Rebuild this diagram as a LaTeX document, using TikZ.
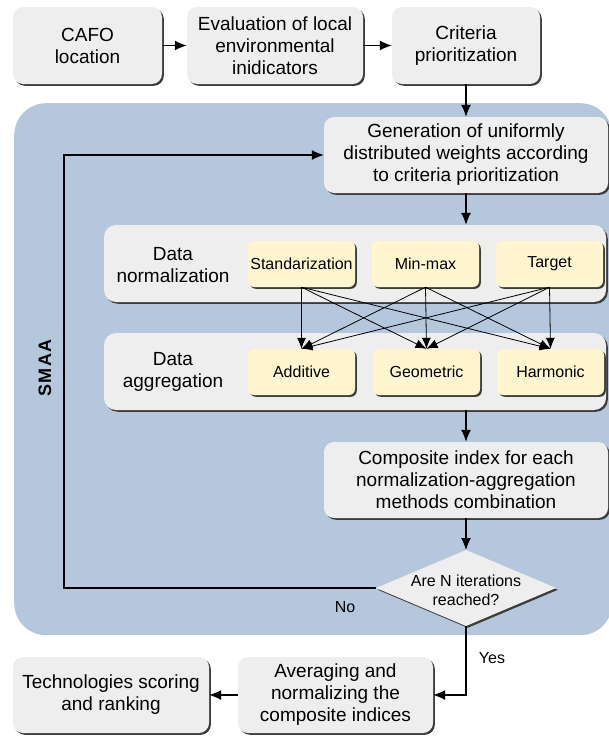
\documentclass[tikz,border=0pt]{standalone}
\usepackage{fontspec}
\setmainfont{Liberation Sans}
\usetikzlibrary{arrows.meta,shadows}
\definecolor{panelblue}{HTML}{B4C7DC}
\definecolor{boxgray}{HTML}{EEEEEE}
\definecolor{boxyellow}{HTML}{FFF5CE}
\definecolor{shadowgray}{HTML}{3C3C3C}
\begin{document}
\begin{tikzpicture}[x=1pt,y=1pt,
  shd/.style={drop shadow={shadow xshift=1.8pt,shadow yshift=-1.8pt,fill=shadowgray,opacity=1}},
  gbox/.style={shd,fill=boxgray,rounded corners=10pt,align=center,inner sep=0pt,font=\fontsize{19}{22}\selectfont},
  ybox/.style={shd,fill=boxyellow,rounded corners=6pt,align=center,inner sep=0pt,minimum width=107pt,minimum height=46pt,font=\fontsize{16}{19}\selectfont},
  panelbox/.style={shd,fill=boxgray,rounded corners=12pt,inner sep=0pt,minimum width=502pt,minimum height=77pt},
  lbl/.style={align=center,inner sep=0pt,font=\fontsize{19}{22}\selectfont},
  conn/.style={line width=1.2pt,-{Latex[length=12pt,width=10pt]}},
  crossarrow/.style={line width=0.8pt,-{Latex[length=11pt,width=9pt]}},
]
\useasboundingbox (0,0) rectangle (609,-736);
% SMAA panel
\node[fill=panelblue,rounded corners=32pt,minimum width=598pt,minimum height=532pt,anchor=north west,inner sep=0pt] (smaa) at (14,-103) {};
\node[rotate=90,font=\bfseries\fontsize{18}{20}\selectfont] (smaalbl) at (45,-368) {S\kern1.5pt M\kern1.5pt A\kern1.5pt A};

% top row
\node[gbox,minimum width=149pt,minimum height=77pt] (cafo) at (87.5,-45.5) {CAFO\\location};
\node[gbox,minimum width=176pt,minimum height=77pt] (eval) at (275,-45.5) {Evaluation of local\\environmental\\inidicators};
\node[gbox,minimum width=148pt,minimum height=77pt] (crit) at (466,-45.5) {Criteria\\prioritization};

% generation
\node[gbox,minimum width=284pt,minimum height=76pt] (gen) at (466,-155) {Generation of uniformly\\distributed weights according\\to criteria prioritization};

% normalization panel
\node[panelbox] (normp) at (355,-263.5) {};
\node[lbl] (normlbl) at (173,-265) {Data\\normalization};
\node[ybox] (std) at (301.5,-264) {Standarization};
\node[ybox] (mm) at (425.5,-264) {Min-max};
\node[ybox] (tgt) at (549.5,-264) {Target};

% aggregation panel
\node[panelbox] (aggp) at (355,-371.5) {};
\node[lbl] (agglbl) at (173,-372) {Data\\aggregation};
\node[ybox] (add) at (301.5,-372) {Additive};
\node[ybox] (geo) at (426.5,-372) {Geometric};
\node[ybox] (har) at (550.5,-372) {Harmonic};

% composite
\node[gbox,minimum width=284pt,minimum height=76pt] (comp) at (466,-480) {Composite index for each\\normalization-aggregation\\methods combination};

% diamond
\coordinate (diaT) at (466,-550);
\coordinate (diaB) at (466,-626);
\coordinate (diaL) at (376,-588);
\coordinate (diaR) at (556,-588);
\fill[boxgray,shd] (diaT) -- (diaR) -- (diaB) -- (diaL) -- cycle;
\node[align=center,inner sep=0pt,font=\fontsize{16}{19}\selectfont] (dia) at (466,-590) {Are N iterations\\reached?};

% bottom row
\node[gbox,minimum width=195pt,minimum height=76pt] (avg) at (335.5,-695) {Averaging and\\normalizing the\\composite indices};
\node[gbox,minimum width=196pt,minimum height=76pt] (tech) at (111,-695) {Technologies scoring\\and ranking};

% labels
\node[inner sep=0pt,font=\fontsize{16}{19}\selectfont] (nolbl) at (345,-607) {No};
\node[inner sep=0pt,font=\fontsize{16}{19}\selectfont] (yeslbl) at (492,-658) {Yes};

% connectors
\draw[conn] (cafo.east) -- (eval.west);
\draw[conn] (eval.east) -- (crit.west);
\draw[conn] (crit.south) -- (gen.north);
\draw[conn] (gen.south) -- (gen.south |- normp.north);
\foreach \s in {std,mm,tgt}{
  \foreach \t in {add,geo,har}{
    \draw[crossarrow] (\s.south) -- (\t.north);
  }
}
\draw[conn] (aggp.south -| comp.north) -- (comp.north);
\draw[conn] (comp.south) -- (diaT);
\coordinate (loopc) at (64,-588);
\draw[conn] (diaL) -- (loopc) |- (gen.west);
\draw[conn] (diaB) |- (avg.east);
\draw[conn] (avg.west) -- (tech.east);
\end{tikzpicture}
\end{document}
